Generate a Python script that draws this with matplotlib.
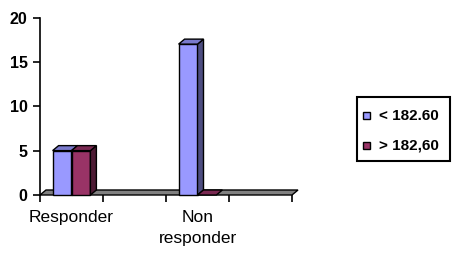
import numpy as np
import matplotlib
matplotlib.use("Agg")
import matplotlib.pyplot as plt
from matplotlib.patches import Polygon, Rectangle

plt.rcParams['font.family'] = ['Liberation Sans', 'DejaVu Sans']

categories = ["Responder", "", "Non\nresponder", ""]
series_names = ["< 182.60", "> 182,60"]
low_values = [5, np.nan, 17, np.nan]
high_values = [5, np.nan, 0, np.nan]
y_ticks = [0, 5, 10, 15, 20]

front_colors = ["#9999FF", "#993366"]
side_colors = ["#4D4D80", "#4D1A33"]
top_colors = ["#7A7ACC", "#7A2952"]

W, H = 461, 258
fig = plt.figure(figsize=(W / 100, H / 100), dpi=100)
ax_l, ax_r, ax_b, ax_t = 40, 292, 195, 17.5
ax = fig.add_axes([ax_l / W, 1 - ax_b / H, (ax_r - ax_l) / W, (ax_b - ax_t) / H])
n = len(categories)
ax.set_xlim(0, n)
ax.set_ylim(0, 20)

# 3D depth offsets in pixels converted to data units
px_x = (ax_r - ax_l) / n
px_y = (ax_b - ax_t) / 20
dx = 6 / px_x
dy = 5 / px_y

# floor
floor = Polygon([(0, 0), (n, 0), (n + dx, dy), (dx, dy)], closed=True,
                facecolor="#808080", edgecolor="black", lw=1, clip_on=False, zorder=1)
ax.add_patch(floor)

width = 0.3
offsets = [0.2, 0.5]
for s, vals in enumerate([low_values, high_values]):
    for i, v in enumerate(vals):
        if np.isnan(v):
            continue
        x0 = i + offsets[s]
        x1 = x0 + width
        z = 2 + s * 3 + i * 0.1
        if v > 0:
            ax.bar(x0, v, width=width, align='edge', color=front_colors[s],
                   edgecolor="black", lw=1, zorder=z, clip_on=False)
            side = Polygon([(x1, 0), (x1 + dx, dy), (x1 + dx, v + dy), (x1, v)], closed=True,
                           facecolor=side_colors[s], edgecolor="black", lw=1, zorder=z, clip_on=False)
            ax.add_patch(side)
        top = Polygon([(x0, v), (x1, v), (x1 + dx, v + dy), (x0 + dx, v + dy)], closed=True,
                      facecolor=top_colors[s], edgecolor="black", lw=1, zorder=z + 0.01, clip_on=False)
        ax.add_patch(top)

for sp in ["top", "right", "bottom"]:
    ax.spines[sp].set_visible(False)
ax.spines["left"].set_linewidth(1.2)

ax.set_yticks(y_ticks)
ax.set_yticklabels([str(t) for t in y_ticks], fontsize=11.5, fontweight='bold')
ax.tick_params(axis='y', length=5, width=1.2, pad=4)

ax.set_xticks(np.arange(0, n + 1))
ax.set_xticklabels([])
ax.set_xticks(np.arange(n) + 0.5, minor=True)
ax.set_xticklabels(categories, minor=True, fontsize=12.5, linespacing=1.5)
ax.tick_params(axis='x', which='major', length=5, width=1.2, direction='out')
ax.tick_params(axis='x', which='minor', length=0, pad=10.5)

# legend drawn as a box with swatches and labels (pixel layout)
def fx(px):
    return px / W

def fy(py):
    return 1 - py / H

fig.patches.append(Rectangle((fx(357), fy(161)), fx(450) - fx(357), fy(97) - fy(161),
                             transform=fig.transFigure, facecolor="white",
                             edgecolor="black", lw=1.5, zorder=5))
row_y = [116, 145]
for i, name in enumerate(series_names):
    fig.patches.append(Rectangle((fx(362.5), fy(row_y[i] + 3.5)), 7 / W, 7 / H,
                                 transform=fig.transFigure, facecolor=front_colors[i],
                                 edgecolor="black", lw=1, zorder=6))
    fig.text(fx(379), fy(row_y[i]), name, fontsize=11, fontweight='bold',
             ha='left', va='center', zorder=7)

fig.savefig("out.png", dpi=100)
